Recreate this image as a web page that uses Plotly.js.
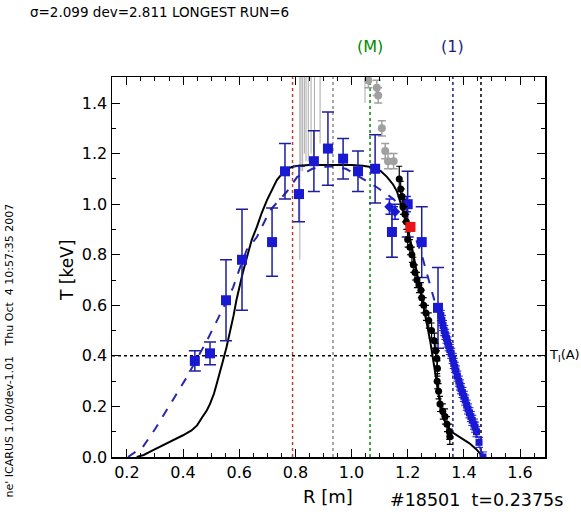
<!DOCTYPE html>
<html><head><meta charset="utf-8">
<script src="https://cdn.plot.ly/plotly-3.0.1.min.js"></script>
<style>html,body{margin:0;padding:0;background:#fff}#plot{width:581px;height:515px}</style>
</head><body><div id="plot"></div>
<script>
// Fit curve (black solid)
const fitR = [0.235,0.26,0.29,0.32,0.346,0.37,0.40,0.43,0.45,0.47,0.485,0.496,0.51,0.52,0.532,0.542,0.555,0.567,0.58,0.59,0.60,0.613,0.63,0.645,0.663,0.68,0.699,0.717,0.734,0.752,0.77,0.79,0.81,0.85,0.9,0.95,1.0,1.04,1.08,1.105,1.126,1.148,1.162,1.176,1.19,1.203,1.215,1.235,1.255,1.268,1.28,1.292,1.304,1.315,1.326,1.342,1.36,1.39,1.42,1.445,1.468];
const fitT = [0.0,0.008,0.025,0.042,0.054,0.068,0.086,0.105,0.125,0.16,0.185,0.21,0.25,0.29,0.335,0.38,0.435,0.49,0.56,0.62,0.67,0.73,0.8,0.86,0.91,0.965,1.016,1.06,1.095,1.12,1.14,1.148,1.152,1.155,1.155,1.155,1.155,1.152,1.145,1.13,1.108,1.078,1.05,1.0,0.945,0.89,0.83,0.72,0.61,0.535,0.46,0.375,0.29,0.215,0.155,0.12,0.097,0.075,0.054,0.03,0.0];
// Dashed blue curve
const dashR = [0.204,0.257,0.3,0.34,0.38,0.414,0.45,0.485,0.53,0.578,0.6,0.627,0.663,0.71,0.77,0.806,0.86,0.92,0.98,1.04,1.09,1.15,1.2,1.25,1.3,1.34,1.38,1.42,1.468];
const dashT = [0.0,0.04,0.11,0.185,0.255,0.317,0.39,0.46,0.56,0.67,0.74,0.82,0.87,0.976,1.05,1.107,1.14,1.15,1.14,1.10,1.067,1.02,0.95,0.80,0.60,0.47,0.32,0.18,0.0];
// Blue squares with error bars
const sqR = [0.442,0.496,0.553,0.61,0.717,0.763,0.813,0.866,0.916,0.97,1.023,1.084,1.144,1.2,1.25,1.308];
const sqT = [0.38,0.41,0.62,0.78,0.85,1.13,1.04,1.17,1.22,1.18,1.13,1.14,0.89,1.0,0.85,0.59];
const sqErr = [0.04,0.045,0.16,0.2,0.135,0.11,0.11,0.12,0.145,0.08,0.08,0.135,0.1,0.13,0.14,0.16];
// Blue diamonds near the edge
const dmR = [1.135,1.155,1.197];
const dmT = [0.99,0.97,1.0];
const dmErr = [0.03,0.03,0.03];
// Dense blue points (edge)
const edR = [1.318,1.322,1.326,1.33,1.334,1.338,1.342,1.346,1.35,1.355,1.36,1.364,1.368,1.372,1.377,1.382,1.386,1.39,1.395,1.40,1.405,1.41,1.415,1.42,1.425,1.43,1.436,1.44,1.445,1.454,1.468];
const edT = [0.56,0.54,0.52,0.50,0.485,0.47,0.455,0.44,0.425,0.41,0.39,0.37,0.355,0.34,0.32,0.30,0.285,0.27,0.255,0.24,0.225,0.205,0.19,0.175,0.16,0.145,0.13,0.118,0.1,0.058,0.0];
const edErr = [0.02,0.02,0.02,0.02,0.02,0.02,0.02,0.02,0.02,0.02,0.02,0.02,0.02,0.02,0.02,0.02,0.02,0.02,0.02,0.02,0.02,0.02,0.02,0.02,0.02,0.02,0.02,0.02,0.02,0.02,0.02];
// Black circles
const bkR = [1.17,1.175,1.18,1.183,1.19,1.195,1.2,1.208,1.215,1.22,1.226,1.233,1.24,1.247,1.25,1.257,1.265,1.275,1.285,1.295,1.3,1.304,1.306,1.305,1.31,1.315,1.325,1.333,1.34,1.348,1.35];
const bkT = [1.10,1.06,1.03,0.99,0.96,0.93,0.86,0.83,0.80,0.76,0.73,0.70,0.68,0.66,0.63,0.60,0.57,0.54,0.50,0.46,0.42,0.39,0.35,0.30,0.26,0.21,0.18,0.16,0.13,0.10,0.08];
const bkErr = [0.05,0.03,0.03,0.03,0.03,0.03,0.03,0.03,0.03,0.03,0.03,0.03,0.03,0.03,0.03,0.03,0.03,0.03,0.03,0.03,0.03,0.03,0.03,0.03,0.03,0.03,0.03,0.03,0.03,0.03,0.03];
// Gray circles
const gyR = [1.06,1.09,1.095,1.108,1.12,1.13,1.15,1.144];
const gyT = [1.49,1.46,1.43,1.30,1.21,1.17,1.17,0.89];
const gyErr = [0.03,0.03,0.03,0.03,0.03,0.03,0.03,0.1];
// Gray bars hanging from the top (points off scale)
const gbR = [0.816,0.82,0.826,0.832,0.838,0.846,0.856,0.868,0.888,1.048];
const gbLow = [0.78,1.13,1.13,1.2,1.17,1.17,1.2,1.17,1.24,1.40];
// Red point
const rdR = [1.21];
const rdT = [0.91];
// Vertical reference lines
const vR = [0.79,0.934,1.066,1.361,1.461];
const vColor = ['rgb(200,60,40)','rgb(140,140,140)','rgb(0,140,0)','rgb(30,30,130)','rgb(0,0,0)'];
const tLevel = 0.4;

const BLUE = 'rgb(25,25,210)';
const gbX = [], gbY = [];
gbR.forEach((r,i)=>{gbX.push(r,r,null); gbY.push(1.6,gbLow[i],null);});

const traces = [
  {x:gbX,y:gbY,mode:'lines',line:{color:'rgb(170,170,170)',width:1},hoverinfo:'skip'},
  {x:fitR,y:fitT,mode:'lines',line:{color:'black',width:2}},
  {x:dashR,y:dashT,mode:'lines',line:{color:'rgb(40,40,170)',width:2,dash:'dash'}},
  {x:gyR,y:gyT,mode:'markers',marker:{color:'rgb(160,160,160)',size:8,symbol:'circle'},
   error_y:{type:'data',array:gyErr,color:'rgb(160,160,160)',thickness:1.5,width:4}},
  {x:sqR,y:sqT,mode:'markers',marker:{color:BLUE,size:10,symbol:'square'},
   error_y:{type:'data',array:sqErr,color:'rgb(30,30,160)',thickness:1.5,width:6}},
  {x:dmR,y:dmT,mode:'markers',marker:{color:BLUE,size:8,symbol:'diamond'},
   error_y:{type:'data',array:dmErr,color:BLUE,thickness:1.5,width:4}},
  {x:bkR,y:bkT,mode:'markers',marker:{color:'black',size:7,symbol:'circle'},
   error_y:{type:'data',array:bkErr,color:'black',thickness:1.2,width:3}},
  {x:edR,y:edT,mode:'markers',marker:{color:BLUE,size:7,symbol:'square'},
   error_y:{type:'data',array:edErr,color:BLUE,thickness:1,width:4}},
  {x:rdR,y:rdT,mode:'markers',marker:{color:'rgb(235,20,20)',size:10,symbol:'square'}}
];

const shapes = vR.map((r,i)=>({type:'line',xref:'x',yref:'paper',x0:r,x1:r,y0:0,y1:1,layer:'below',
  line:{color:vColor[i],width:1.5,dash:'dot'}}));
shapes.push({type:'line',xref:'paper',yref:'y',x0:0,x1:1,y0:tLevel,y1:tLevel,layer:'below',line:{color:'black',width:1.5,dash:'dot'}});

const F = 'DejaVu Sans, Liberation Sans, sans-serif';
const layout = {
  width:581,height:515,
  margin:{l:112,r:36,t:77,b:58},
  paper_bgcolor:'white',plot_bgcolor:'white',
  showlegend:false,
  font:{family:F,size:16,color:'black'},
  title:{text:'σ=2.099 dev=2.811 LONGEST RUN=6',xref:'container',yref:'container',x:30/581,xanchor:'left',y:1-8/515,yanchor:'top',font:{family:F,size:13.5,color:'black'}},
  xaxis:{range:[0.147,1.689],tick0:0.2,dtick:0.2,tickformat:'.1f',ticks:'inside',ticklen:8,tickwidth:1,tickcolor:'black',
    showline:true,linecolor:'black',linewidth:1.5,mirror:'ticks',showgrid:false,zeroline:false,
    minor:{dtick:0.05,tick0:0.2,ticks:'inside',ticklen:4,tickcolor:'black',showgrid:false},
    tickfont:{family:F,size:16}},
  yaxis:{range:[0,1.503],tick0:0,dtick:0.2,tickformat:'.1f',ticks:'inside',ticklen:8,tickwidth:1,tickcolor:'black',
    showline:true,linecolor:'black',linewidth:1.5,mirror:'ticks',showgrid:false,zeroline:false,
    minor:{dtick:0.1,ticks:'inside',ticklen:4,tickcolor:'black',showgrid:false},
    tickfont:{family:F,size:16}},
  shapes:shapes,
  annotations:[
    {text:'T [keV]',xref:'paper',yref:'paper',x:-0.104,y:0.492,xanchor:'center',yanchor:'middle',textangle:-90,showarrow:false,font:{family:F,size:17}},
    {text:'R [m]',xref:'paper',yref:'paper',x:0.499,y:-0.105,xanchor:'center',yanchor:'middle',showarrow:false,font:{family:F,size:18}},
    {text:'#18501  t=0.2375s',xref:'paper',yref:'paper',x:0.637,xanchor:'left',yanchor:'middle',y:-0.113,showarrow:false,font:{family:F,size:17.5}},
    {text:'T<sub>I</sub>(A)',xref:'paper',yref:'y',x:1,xshift:2,xanchor:'left',yanchor:'middle',y:tLevel,showarrow:false,font:{family:F,size:13}},
    {text:'(M)',xref:'x',yref:'paper',x:vR[2],y:1.079,xanchor:'center',yanchor:'middle',showarrow:false,font:{family:F,size:16,color:'rgb(0,140,0)'}},
    {text:'(1)',xref:'x',yref:'paper',x:vR[3],y:1.079,xanchor:'center',yanchor:'middle',showarrow:false,font:{family:F,size:16,color:'rgb(30,30,130)'}},
    {text:"ne' ICARUS 1.00/dev-1.01   Thu Oct  4 10:57:35 2007",xref:'paper',yref:'paper',x:-0.236,y:0.28,xanchor:'center',yanchor:'middle',textangle:-90,showarrow:false,font:{family:F,size:11}}
  ]
};
Plotly.newPlot('plot',traces,layout,{displayModeBar:false,staticPlot:true});
</script></body></html>
